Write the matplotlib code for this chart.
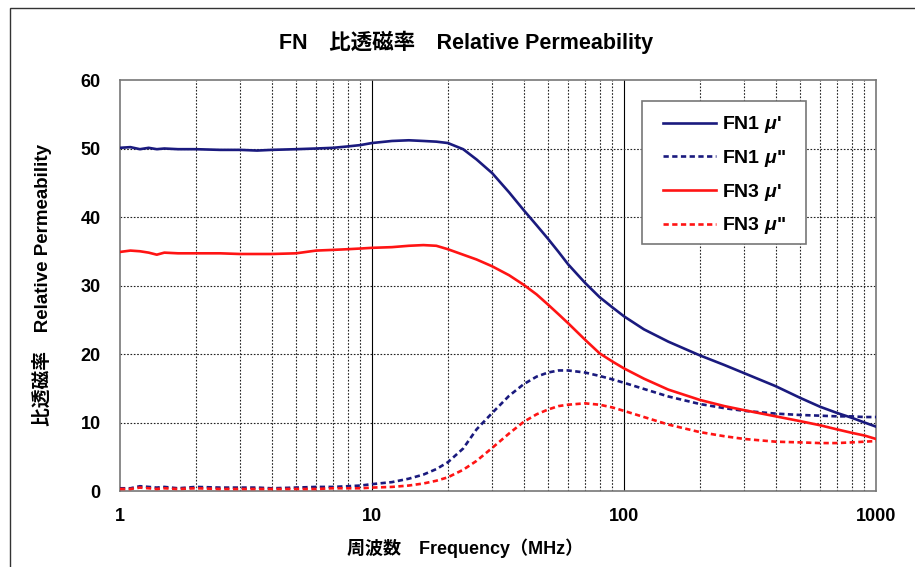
import matplotlib
matplotlib.use("Agg")
import matplotlib.pyplot as plt
from matplotlib.patches import Rectangle
from matplotlib.ticker import FixedLocator, NullFormatter

plt.rcParams['font.family'] = ['Liberation Sans', 'Noto Sans CJK JP', 'DejaVu Sans']
plt.rcParams['mathtext.fontset'] = 'custom'
plt.rcParams['mathtext.it'] = 'Liberation Sans:italic:bold'

# Frequency points (MHz)
freq = [1, 1.1, 1.2, 1.3, 1.4, 1.5, 1.7, 2, 2.5, 3, 3.5, 4, 5, 6, 7, 8, 9, 10,
        12, 14, 16, 18, 20, 23, 26, 30, 35, 40, 45, 50, 55, 60, 70, 80, 90, 100,
        120, 150, 200, 250, 300, 400, 500, 600, 700, 800, 900, 1000]

fn1_mu_real = [50.1, 50.2, 49.9, 50.1, 49.9, 50.0, 49.9, 49.9, 49.8, 49.8, 49.7, 49.8,
               49.9, 50.0, 50.1, 50.3, 50.5, 50.8, 51.1, 51.2, 51.1, 51.0, 50.8, 49.9,
               48.4, 46.4, 43.6, 41.0, 38.8, 36.8, 34.9, 33.1, 30.4, 28.3, 26.8, 25.5,
               23.6, 21.8, 19.8, 18.4, 17.2, 15.3, 13.6, 12.3, 11.4, 10.7, 10.0, 9.4]

fn1_mu_imag = [0.4, 0.4, 0.7, 0.6, 0.5, 0.6, 0.4, 0.6, 0.5, 0.5, 0.5, 0.4,
               0.5, 0.6, 0.6, 0.7, 0.8, 1.0, 1.3, 1.8, 2.4, 3.2, 4.2, 6.2,
               9.0, 11.4, 13.9, 15.6, 16.7, 17.3, 17.6, 17.6, 17.3, 16.8, 16.3, 15.8,
               14.9, 13.8, 12.7, 12.1, 11.7, 11.3, 11.1, 11.0, 10.9, 10.9, 10.8, 10.8]

fn3_mu_real = [34.9, 35.1, 35.0, 34.8, 34.5, 34.8, 34.7, 34.7, 34.7, 34.6, 34.6, 34.6,
               34.7, 35.1, 35.2, 35.3, 35.4, 35.5, 35.6, 35.8, 35.9, 35.8, 35.3, 34.5,
               33.8, 32.8, 31.5, 30.1, 28.7, 27.2, 25.8, 24.5, 22.1, 20.1, 18.9, 17.9,
               16.4, 14.8, 13.3, 12.4, 11.8, 10.9, 10.2, 9.6, 9.0, 8.5, 8.1, 7.6]

fn3_mu_imag = [0.3, 0.3, 0.5, 0.4, 0.3, 0.4, 0.3, 0.4, 0.3, 0.3, 0.3, 0.3,
               0.3, 0.3, 0.4, 0.4, 0.4, 0.5, 0.6, 0.8, 1.1, 1.5, 2.0, 3.1,
               4.4, 6.3, 8.4, 10.1, 11.2, 11.9, 12.4, 12.6, 12.8, 12.6, 12.2, 11.7,
               10.8, 9.7, 8.6, 8.0, 7.6, 7.2, 7.1, 7.0, 7.0, 7.1, 7.2, 7.3]

series_labels = ["FN1 $\\mu$'", 'FN1 $\\mu$"', "FN3 $\\mu$'", 'FN3 $\\mu$"']
x_ticks = [1, 10, 100, 1000]
x_tick_labels = ["1", "10", "100", "1000"]
y_ticks = [0, 10, 20, 30, 40, 50, 60]

navy = '#1a1a7e'
red = '#ff1414'
dot = (0, (2.0, 1.3))

fig = plt.figure(figsize=(9.15, 5.67), dpi=100)
ax = fig.add_axes([0.1311, 0.134, 0.8263, 0.7249])

# outer frame of the figure
fig.patches.append(Rectangle((10 / 915, -0.2), 1.2, 1.2 - 8 / 567,
                             transform=fig.transFigure, fill=False,
                             edgecolor='#333333', linewidth=1.0))

ax.set_xscale('log')
ax.set_xlim(1, 1000)
ax.set_ylim(0, 60)

# grid: dotted at minor decades and horizontal levels, solid at 10 and 100
minor = [m * d for d in (1, 10, 100) for m in range(2, 10)]
for xv in minor:
    ax.axvline(xv, color='#222222', linewidth=0.8, linestyle=(0, (1.5, 1.5)), zorder=1)
for xv in (10, 100):
    ax.axvline(xv, color='black', linewidth=0.8, zorder=1)
for yv in y_ticks[1:-1]:
    ax.axhline(yv, color='#222222', linewidth=0.8, linestyle=(0, (1.5, 1.5)), zorder=1)

lw = 1.9
ax.plot(freq, fn1_mu_real, color=navy, lw=lw, label=series_labels[0], zorder=3)
ax.plot(freq, fn1_mu_imag, color=navy, lw=lw, ls=dot, label=series_labels[1], zorder=3)
ax.plot(freq, fn3_mu_real, color=red, lw=lw, label=series_labels[2], zorder=3)
ax.plot(freq, fn3_mu_imag, color=red, lw=lw, ls=dot, label=series_labels[3], zorder=3)

ax.xaxis.set_major_locator(FixedLocator(x_ticks))
ax.set_xticklabels(x_tick_labels)
ax.xaxis.set_minor_formatter(NullFormatter())
ax.set_yticks(y_ticks)
ax.tick_params(axis='both', which='both', length=0, labelsize=13)
ax.tick_params(axis='x', pad=12)
ax.tick_params(axis='y', pad=14)
for lab in ax.get_xticklabels() + ax.get_yticklabels():
    lab.set_fontweight('bold')

for sp in ax.spines.values():
    sp.set_color('#777777')
    sp.set_linewidth(1.2)

# legend box (wider side padding than top/bottom)
ax.add_patch(Rectangle((0.6905, 0.601), 0.2169, 0.348, transform=ax.transAxes,
                       facecolor='white', edgecolor='#777777', linewidth=1.2,
                       zorder=4))
leg = ax.legend(loc='upper left', bbox_to_anchor=(0.7183, 0.9163),
                prop={'weight': 'bold', 'size': 14}, frameon=False,
                handlelength=2.7, handletextpad=0.31, labelspacing=0.65,
                borderpad=0, borderaxespad=0)
leg.set_zorder(5)

fig.text(466 / 915, 1 - 42 / 567, "FN　比透磁率　Relative Permeability", ha='center',
         va='center', fontsize=15.5, fontweight='bold')
fig.text(465 / 915, 1 - 548 / 567, "周波数　Frequency（MHz）", ha='center', va='center',
         fontsize=13, fontweight='bold')
fig.text(42 / 915, 1 - 285 / 567, "比透磁率　Relative Permeability", ha='center',
         va='center', rotation=90, fontsize=13.5, fontweight='bold')

fig.savefig("out.png", dpi=100)
